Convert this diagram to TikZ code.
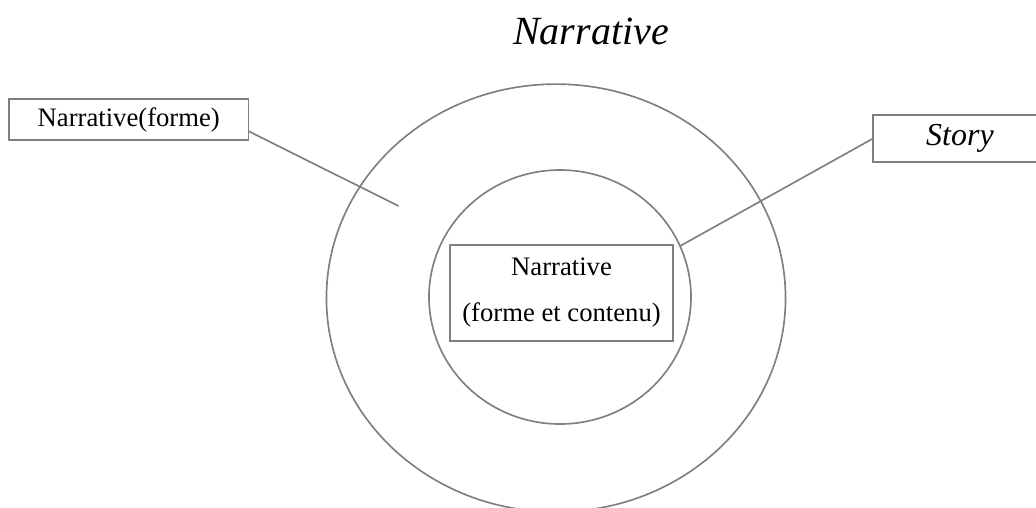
\documentclass[tikz,border=0pt]{standalone}
\usepackage{fontspec}
\setmainfont{Liberation Serif}
\usetikzlibrary{shapes.geometric}

\begin{document}
\begin{tikzpicture}[x=0.45pt, y=-0.45pt,
    frame/.style = {shape=rectangle, draw=gray, line width=0.75pt,
      align=center, inner sep=0pt, outer sep=0pt,
      font=\fontsize{12}{20.7}\selectfont},
    ring/.style = {shape=ellipse, draw=gray, line width=0.75pt,
      inner sep=0pt, outer sep=0pt},
    link/.style = {draw=gray, line width=0.75pt}]
    \useasboundingbox (0,0) rectangle (1036,507);
    \node[ring, minimum width=206.6pt, minimum height=192.5pt] (outer) at (556,298) {};
    \node[ring, minimum width=117.9pt, minimum height=114.3pt] (inner) at (560,297) {};
    \node[frame, minimum width=100.4pt, minimum height=43.2pt] (core) at (561.5,293)
        {Narrative\\(forme et contenu)};
    \node[frame, minimum width=107.8pt, minimum height=18.5pt] (forme) at (128.75,119.5)
        {Narrative(forme)};
    \node[frame, minimum width=78.3pt, minimum height=21.2pt,
        font=\fontsize{14.4}{17}\selectfont\itshape] (story) at (960,138.5) {Story};
    \node[font=\fontsize{18}{22}\selectfont\itshape] (title) at (591,31) {Narrative};
    \coordinate (ringpt) at (398.5,206);
    \draw[link] ([yshift=4pt]forme.south east) -- (ringpt);
    \draw[link] (story.west) -- (inner.23);
\end{tikzpicture}
\end{document}
